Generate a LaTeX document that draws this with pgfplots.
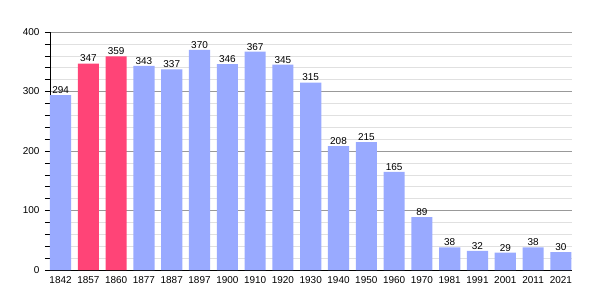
\documentclass[border=0pt]{standalone}
\usepackage{pgfplots}
\pgfplotsset{compat=1.18}
\usepackage{fontspec}
\setmainfont{Liberation Sans}
\definecolor{barblue}{HTML}{99AAFF}
\definecolor{barpink}{HTML}{FF4477}
\begin{document}
\begin{tikzpicture}
\path[use as bounding box] (-50bp,-30bp) rectangle (550bp,270bp);
\begin{axis}[
  at={(0,0)}, anchor=south west,
  scale only axis, width=522bp, height=238bp,
  xmin=-0.38, xmax=18.4, ymin=0, ymax=400,
  axis x line*=bottom, axis y line*=left,
  xtick={0,...,18},
  xticklabels={1842,1857,1860,1877,1887,1897,1900,1910,1920,1930,1940,1950,1960,1970,1981,1991,2001,2011,2021},
  x tick label style={font=\fontsize{10}{12}\selectfont, yshift=2bp},
  ytick={0,100,200,300,400},
  minor ytick={20,40,60,80,120,140,160,180,220,240,260,280,320,340,360,380},
  y tick label style={font=\fontsize{10}{12}\selectfont, xshift=-2bp},
  /pgf/number format/assume math mode=true,
  ymajorgrids, yminorgrids,
  major grid style={draw=black!40, line width=0.5pt},
  minor grid style={draw=black!12, line width=0.5pt},
  major x tick style={draw=none},
  y tick style={draw=black, line width=0.5pt},
  major tick length=5bp, minor tick length=5bp,
  tick align=outside,
  axis line style={line width=0.8pt, -},
  nodes near coords,
  nodes near coords style={font=\fontsize{10}{12}\selectfont, black, yshift=-2bp},
  every axis plot/.append style={ybar, bar width=0.76, bar shift=0, draw=none},
  clip=false,
]
\addplot[fill=barblue] coordinates {(0,294) (3,343) (4,337) (5,370) (6,346) (7,367) (8,345) (9,315) (10,208) (11,215) (12,165) (13,89) (14,38) (15,32) (16,29) (17,38) (18,30)};
\addplot[fill=barpink] coordinates {(1,347) (2,359)};
\end{axis}
\end{tikzpicture}
\end{document}
